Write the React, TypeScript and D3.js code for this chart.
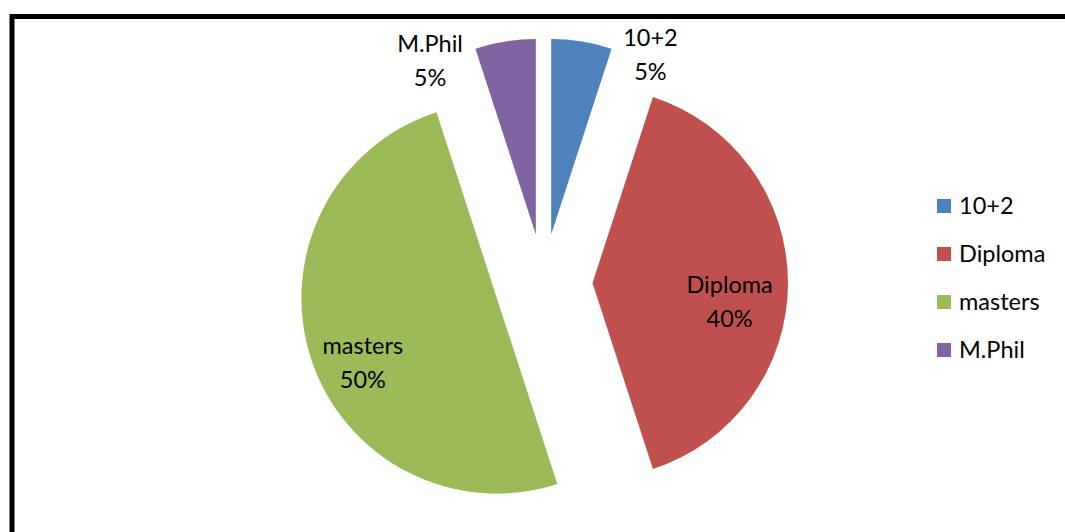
import React from "react";
import * as d3 from "d3";

const categories = ["10+2", "Diploma", "masters", "M.Phil"];
const values = [5, 40, 50, 5];
const colors = ["#4F81BD", "#C0504D", "#9BBB59", "#8064A2"];
// label placement: angle (deg, clockwise from 12 o'clock) and distance from pie center
const labelAngles = [25, 95.5, 246.5, -27];
const labelRadii = [253, 187, 197, 250];

const W = 1065;
const H = 532;

export default function App() {
  const cx = 543.5;
  const cy = 283;
  const R = 195.5;
  const explode = 49;
  const font = "Lato, 'Open Sans', sans-serif";
  const fs = 23.5;

  const pie = d3
    .pie<number>()
    .sort(null)
    .value((d) => d)
    .startAngle(0)
    .endAngle(2 * Math.PI);
  const arcs = pie(values);
  const arc = d3.arc<d3.PieArcDatum<number>>().innerRadius(0).outerRadius(R);
  const total = d3.sum(values);

  const legendY = d3.scaleBand<string>().domain(categories).range([182, 374]);

  return (
    <svg
      width={W}
      height={H}
      style={{ position: "absolute", left: 0, top: 0, display: "block" }}
    >
      <rect x={0} y={0} width={W} height={H} fill="#fff" />
      <rect
        x={12}
        y={16.5}
        width={W + 20}
        height={H + 20}
        fill="none"
        stroke="#000"
        strokeWidth={5}
      />
      {arcs.map((a, i) => {
        const mid = (a.startAngle + a.endAngle) / 2;
        const dx = Math.sin(mid) * explode;
        const dy = -Math.cos(mid) * explode;
        return (
          <path
            key={categories[i]}
            d={arc(a) || ""}
            fill={colors[i]}
            transform={`translate(${cx + dx},${cy + dy})`}
          />
        );
      })}
      {arcs.map((a, i) => {
        const ang = (labelAngles[i] * Math.PI) / 180;
        const lx = cx + Math.sin(ang) * labelRadii[i];
        const ly = cy - Math.cos(ang) * labelRadii[i];
        const pct = Math.round((values[i] / total) * 100) + "%";
        return (
          <text
            key={"l" + i}
            x={lx}
            y={ly}
            textAnchor="middle"
            fontFamily={font}
            fontSize={fs}
            fill="#000"
          >
            <tspan x={lx} dy={-8}>
              {categories[i]}
            </tspan>
            <tspan x={lx} dy={34}>
              {pct}
            </tspan>
          </text>
        );
      })}
      {categories.map((c, i) => {
        const y = (legendY(c) || 0) + legendY.bandwidth() / 2;
        return (
          <g key={"lg" + i}>
            <rect x={937} y={y - 7} width={14} height={14} fill={colors[i]} />
            <text
              x={959}
              y={y}
              dy="0.35em"
              fontFamily={font}
              fontSize={fs}
              fill="#000"
            >
              {c}
            </text>
          </g>
        );
      })}
    </svg>
  );
}
